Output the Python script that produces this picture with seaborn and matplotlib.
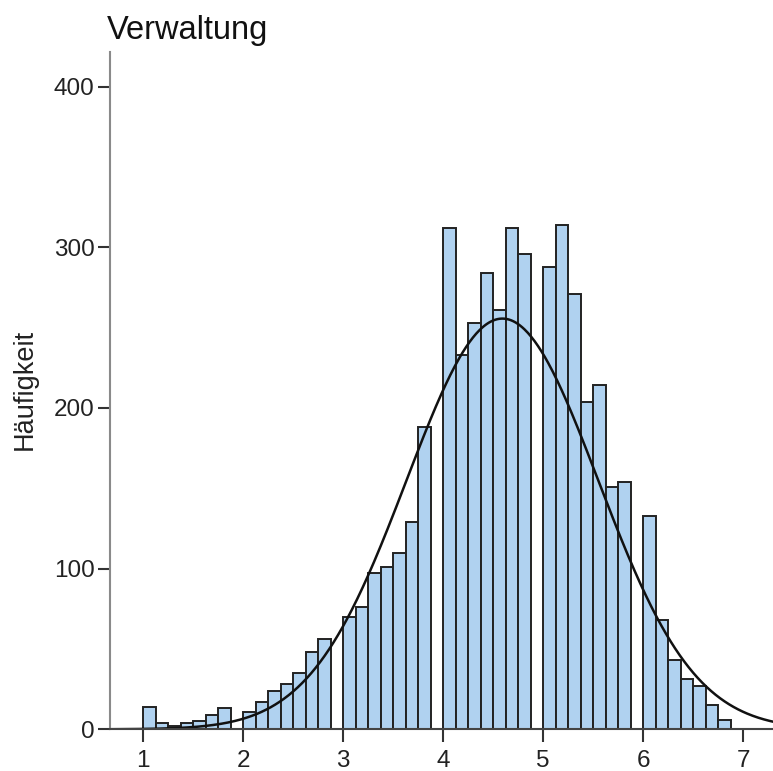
import numpy as np
import pandas as pd
import matplotlib
matplotlib.use("Agg")
import matplotlib.pyplot as plt
import seaborn as sns

# ---- data (counts per scale value; scale = mean of 7 items, steps of 1/7) ----
titel = "Verwaltung"
y_label = "Häufigkeit"
x_ticks = [1, 2, 3, 4, 5, 6, 7]
y_ticks = [0, 100, 200, 300, 400]

counts_1 = [14, 4, 2, 4, 5, 9, 13]          # values 1, 1 1/7, ..., 1 6/7
counts_2 = [11, 17, 24, 28, 35, 48, 56]
counts_3 = [70, 76, 97, 101, 110, 129, 188]
counts_4 = [312, 233, 253, 284, 261, 312, 296]
counts_5 = [288, 314, 271, 204, 214, 151, 154]
counts_6 = [133, 68, 43, 31, 27, 15, 6]
scale_values = np.arange(7, 49) / 7.0        # 1 .. 6 6/7
bin_width = 0.125

counts = counts_1 + counts_2 + counts_3 + counts_4 + counts_5 + counts_6
df = pd.DataFrame({"wert": scale_values, "anzahl": counts})

# ---- figure ----
sns.set_theme(style="white")
plt.rcParams["font.family"] = ["Liberation Sans", "DejaVu Sans"]

W, H = 773, 771
fig = plt.figure(figsize=(W / 100, H / 100), dpi=100)
ax_left, ax_right, ax_top, ax_bottom = 110, 773, 51.7, 729.3
ax = fig.add_axes([ax_left / W, 1 - ax_bottom / H,
                   (ax_right - ax_left) / W, (ax_bottom - ax_top) / H])

bins = [float(b) for b in np.arange(1.0, 7.0 + bin_width / 2, bin_width)]
sns.histplot(data=df, x="wert", weights="anzahl", bins=bins, ax=ax,
             color="#b0d2f0", alpha=1.0, edgecolor="#222222", linewidth=1.4)

# normal curve fitted to the data
n = df["anzahl"].sum()
mean = np.average(df["wert"], weights=df["anzahl"])
sd = np.sqrt(np.average((df["wert"] - mean) ** 2, weights=df["anzahl"]))
xs = np.linspace(0.67, 7.4, 600)
ys = n * bin_width * np.exp(-0.5 * ((xs - mean) / sd) ** 2) / (sd * np.sqrt(2 * np.pi))
sns.lineplot(x=xs, y=ys, ax=ax, color="#111111", linewidth=1.8)

ax.set_xlim(0.67, 7.30)
ax.set_ylim(0, 421.7)
ax.set_xticks(x_ticks)
ax.set_yticks(y_ticks)
ax.set_xticklabels([str(t) for t in x_ticks])
ax.set_yticklabels([str(t) for t in y_ticks])
ax.set_xlabel("")
ax.set_ylabel("")

for s in ["top", "right"]:
    ax.spines[s].set_visible(False)
ax.spines["left"].set_color("#8a8a8a")
ax.spines["bottom"].set_color("#444444")
ax.spines["left"].set_linewidth(1.5)
ax.spines["bottom"].set_linewidth(1.5)

ax.tick_params(axis="both", which="major", direction="out", length=9,
               width=1.5, color="#333333", labelsize=17.5, labelcolor="#222222",
               bottom=True, left=True)
ax.tick_params(axis="x", pad=6)
ax.tick_params(axis="y", pad=2)

fig.text(107 / W, 1 - 39 / H, titel, ha="left", va="baseline",
         fontsize=23.5, color="#111111")
fig.text(25 / W, 1 - 389 / H, y_label, rotation=90, ha="center", va="center",
         fontsize=19.5, color="#222222")

fig.savefig("out.png", dpi=100)
